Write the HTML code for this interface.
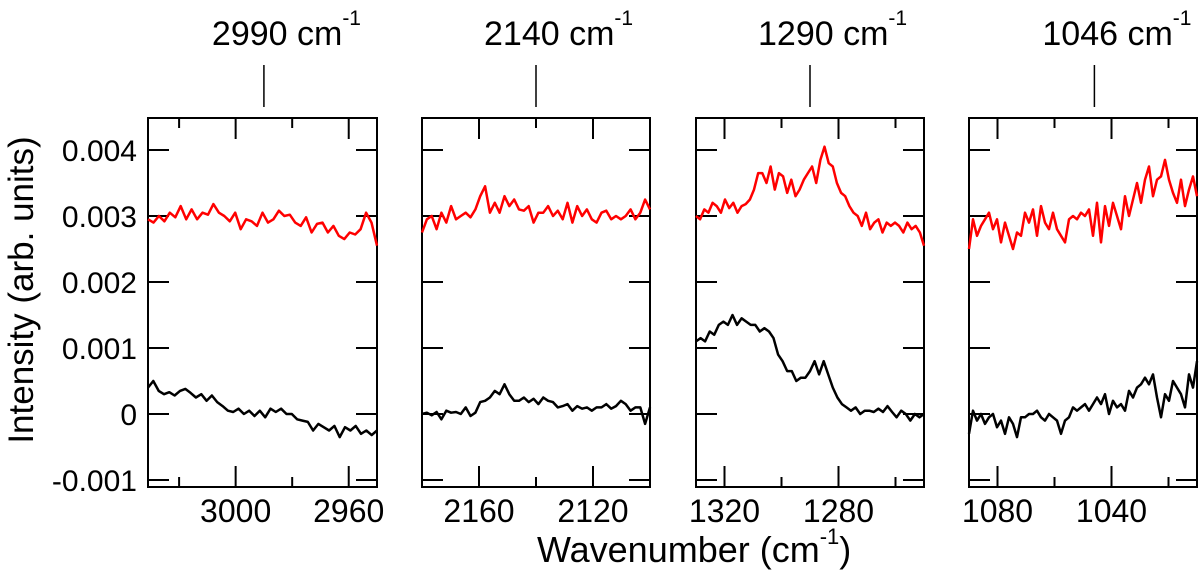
<!DOCTYPE html>
<html><head><meta charset="utf-8"><style>
html,body{margin:0;padding:0;background:#fff;width:1200px;height:581px;overflow:hidden}
svg{display:block;font-family:"Liberation Sans",Arial,sans-serif}
</style></head><body>
<svg id="chart" width="1200" height="581" viewBox="0 0 1200 581" xmlns="http://www.w3.org/2000/svg"></svg>
<script>
// values in units of 1e-4
const yTicks=[-0.001,0,0.001,0.002,0.003,0.004];
const yTickLabels=["-0.001","0","0.001","0.002","0.003","0.004"];
const panelRanges=[[3031,2950],[2180,2100],[1330,1250],[1090,1010]];
const xTickMajor=[[3000,2960],[2160,2120],[1320,1280],[1080,1040]];
const xTickMinor=[[3020,2980,2940],[2140,2100],[1300,1260],[1060,1020]];
const markers=[2990,2140,1290,1046];
const markerLabels=["2990 cm","2140 cm","1290 cm","1046 cm"];
const red1=[29.5,29,30,29.2,30.5,29.8,31.5,29.5,31,29.5,30.5,30.2,31.8,30.5,30,29.2,30.5,28,29.5,29.2,28.5,30.5,29,29.5,30.8,30,30.2,29,28.5,29.8,27.5,28.8,29,27.5,28.5,27,26.5,27.5,27.2,28,30.5,29,25.5];
const black1=[4,5,3.5,3,3.3,2.8,3.5,3.8,3.2,2.5,3,2,2.8,1.8,1.2,0.5,0.3,0.8,0,0.5,-0.3,0.5,-0.5,0.8,0.3,0.8,0,0,-0.8,-1,-1.2,-2.5,-1.5,-2,-2.5,-1.8,-3.5,-2,-2.5,-1.8,-3,-2.5,-3.2,-2.5];
const red2=[27.5,29.5,30,28,30.5,29,31.5,29.5,30,30.5,29.8,31,33,34.5,30.5,32,30.5,33,31.5,32.5,31,30.8,31.5,29,30.5,30.5,31.5,30,30.8,29.5,32,29,31.5,30,31,29.5,29,30.5,30.8,29.5,30,29.5,30,31,29.5,30.5,32.5,31];
const black2=[0,0.2,-0.2,0.3,-0.8,0.5,0.2,0.3,0,1,-0.3,0.2,1.8,2,2.5,3.5,3,4.5,3,2,2,2.5,1.8,2.3,1.5,2.5,2,1.8,1,1.2,1.5,0.5,1.2,0.8,1,0.5,1,1,1.5,0.8,1.2,2,1.5,0.5,1,1,-1.5,1];
const red3=[30,29.5,31,30.5,32,31.5,30.5,32.5,31.2,32,30.5,31.5,31.8,32.5,34,36.5,36.5,35,37.5,34,36.5,36,33.5,35.5,33,34,35.5,36.5,37.5,35,38.5,40.5,38,37.5,35,33.5,33,31.5,30.5,30,28.5,30.5,28,29,29.5,27.5,29,28.5,29,28.5,27.5,29,28,28.5,27.5,25.5];
const black3=[11,11.5,11,12.5,12,13.5,14,13.5,15,13.5,14.5,14,13.5,13.5,12.5,13,12.5,11.5,9,8,6.5,6.5,5,5.5,5.5,6.5,8,6,8,6,4,2.5,1.5,1,0.5,1,0,0.5,0.5,0.3,0.8,0.3,1.2,0.3,-0.5,0.5,0,-1,0,-0.5,0];
const red4=[25,29.5,27,28.5,29.5,30.5,28,29.5,26,29,27,25,27.5,27,30.5,29,31,27,31.5,29,28,30.5,28,27,26,29.5,30,29.5,30.5,30,31,27,32,26,31.5,28.5,32,30,28,33,30,32.5,35,32,35.5,37.5,33,35.5,36,38.5,35.5,33.5,32,35.5,31.5,34,36,33];
const black4=[-3,0.5,-1,0,-1.5,-0.5,0,-2,-1,-3,-0.5,-1.5,-3.5,-0.5,-0.5,0,0,0.5,-0.5,-1,0,-0.5,-1,-3,-1,-0.5,1,0.5,1,1.5,0.5,1.5,2.5,1.5,3,0,2,1,1.5,0.5,3.5,2.5,4,4.5,5.5,4.5,6,2.5,-0.5,3,2,5,4,3,1,6,4,8];
const redSeries=[red1,red2,red3,red4];
const blackSeries=[black1,black2,black3,black4];

const NS="http://www.w3.org/2000/svg";
const svgEl=document.getElementById('chart');
const panelX=[[148,377],[422,650],[696,924],[969,1197]];
const plotTop=118,plotBot=487;
const yScale=v=>414-v*66000;
function mk(tag,attrs,parent){const e=document.createElementNS(NS,tag);for(const k in attrs)e.setAttribute(k,attrs[k]);(parent||svgEl).appendChild(e);return e;}

panelRanges.forEach((r,p)=>{
  const x0=panelX[p][0],x1=panelX[p][1];
  const xs=v=>x0+(r[0]-v)/(r[0]-r[1])*(x1-x0);
  const g=mk('g',{});
  
  
  const frame=mk('rect',{x:x0,y:plotTop,width:x1-x0,height:plotBot-plotTop,fill:'none',stroke:'#000','stroke-width':2},g);
  
  
  yTicks.forEach((t,i)=>{
    const y=yScale(t);
    mk('line',{x1:x0,x2:x0+21,y1:y,y2:y,stroke:'#000','stroke-width':2},g);
    mk('line',{x1:x1-21,x2:x1,y1:y,y2:y,stroke:'#000','stroke-width':2},g);
    if(p===0){const tx=mk('text',{x:137,y:y+11,'text-anchor':'end','font-size':30},g);tx.textContent=yTickLabels[i];
      
      }
  });
  xTickMajor[p].forEach(t=>{
    const x=xs(t);
    mk('line',{x1:x,x2:x,y1:plotTop,y2:plotTop+21,stroke:'#000','stroke-width':2},g);
    mk('line',{x1:x,x2:x,y1:plotBot,y2:plotBot-21,stroke:'#000','stroke-width':2},g);
    const tx=mk('text',{x:x,y:522,'text-anchor':'middle','font-size':32},g);tx.textContent=t;
    
    
  });
  xTickMinor[p].forEach(t=>{
    const x=xs(t); if(x<x0+2||x>x1-2)return;
    mk('line',{x1:x,x2:x,y1:plotTop,y2:plotTop+10,stroke:'#000','stroke-width':2},g);
    mk('line',{x1:x,x2:x,y1:plotBot,y2:plotBot-10,stroke:'#000','stroke-width':2},g);
  });
  [[redSeries[p],'#f00','red-spectrum'],[blackSeries[p],'#000','black-spectrum']].forEach(item=>{
    const d=item[0],c=item[1],n=item[2];
    const n1=d.length-1;
    const pts=d.map((v,i)=>{const w=r[0]+(r[1]-r[0])*i/n1;return xs(w).toFixed(1)+','+yScale(v*1e-4).toFixed(1);}).join(' ');
    const pl=mk('polyline',{points:pts,fill:'none',stroke:c,'stroke-width':2.5,'stroke-linejoin':'round'},g);
    
    
  });
  const mx=xs(markers[p]);
  const ml=mk('line',{x1:mx,x2:mx,y1:65,y2:107,stroke:'#000','stroke-width':1.5},g);
  
  
  const lt=mk('text',{x:mx-52,y:45,'font-size':34},g);
  
  
  lt.textContent=markerLabels[p];
  const sup=mk('tspan',{'font-size':21,dy:-20},lt);sup.textContent='-1';
});
const yl=mk('text',{x:0,y:0,'font-size':35,'text-anchor':'middle',transform:'translate(33,290) rotate(-90)'});
yl.textContent='Intensity (arb. units)';


const xl=mk('text',{x:537,y:562,'font-size':36});


xl.textContent='Wavenumber (cm';
const xs1=mk('tspan',{'font-size':22,dy:-18},xl);xs1.textContent='-1';
const xs2=mk('tspan',{dy:18},xl);xs2.textContent=')';
</script>
</body></html>
